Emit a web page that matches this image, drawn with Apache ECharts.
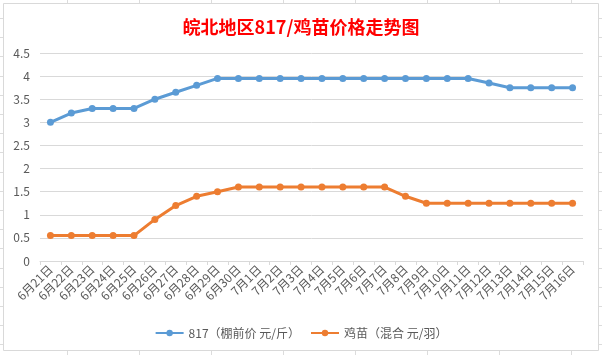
<!DOCTYPE html>
<html>
<head>
<meta charset="utf-8">
<script src="https://cdn.jsdelivr.net/npm/echarts@6/dist/echarts.min.js"></script>
<style>
html,body{margin:0;padding:0;background:#fff;}
#c{width:602px;height:355px;}
</style>
</head>
<body>
<div id="c"></div>
<script>
const categories = ['6月21日','6月22日','6月23日','6月24日','6月25日','6月26日','6月27日','6月28日','6月29日','6月30日',
  '7月1日','7月2日','7月3日','7月4日','7月5日','7月6日','7月7日','7月8日','7月9日','7月10日',
  '7月11日','7月12日','7月13日','7月14日','7月15日','7月16日'];
const price817 = [3.0,3.2,3.3,3.3,3.3,3.5,3.65,3.8,3.95,3.95,
  3.95,3.95,3.95,3.95,3.95,3.95,3.95,3.95,3.95,3.95,
  3.95,3.85,3.75,3.75,3.75,3.75];
const chickPrice = [0.55,0.55,0.55,0.55,0.55,0.9,1.2,1.4,1.5,1.6,
  1.6,1.6,1.6,1.6,1.6,1.6,1.6,1.4,1.25,1.25,
  1.25,1.25,1.25,1.25,1.25,1.25];
const seriesNames = ['817（棚前价 元/斤）','鸡苗（混合 元/羽）'];
const titleText = '皖北地区817/鸡苗价格走势图';

const FONT = '"Noto Sans CJK SC", "Noto Sans", sans-serif';
const chart = echarts.init(document.getElementById('c'));

// spreadsheet background grid in the margins (decoration)
const deco = [];
const sheetLine = {stroke:'#dcdcdc', lineWidth:1};
for (let x = 67; x < 602; x += 72) {
  deco.push({type:'line', silent:true, z:-5, shape:{x1:x+0.5,y1:0,x2:x+0.5,y2:3}, style:sheetLine});
  deco.push({type:'line', silent:true, z:-5, shape:{x1:x+0.5,y1:351,x2:x+0.5,y2:355}, style:sheetLine});
}
for (let y = 18; y < 355; y += 19.2) {
  const yy = Math.round(y) + 0.5;
  deco.push({type:'line', silent:true, z:-5, shape:{x1:0,y1:yy,x2:3,y2:yy}, style:sheetLine});
  deco.push({type:'line', silent:true, z:-5, shape:{x1:599,y1:yy,x2:602,y2:yy}, style:sheetLine});
}
deco.push({type:'rect', silent:true, z:-4, shape:{x:3.5,y:3.5,width:595,height:347},
  style:{fill:'#ffffff', stroke:'#d9d9d9', lineWidth:1}});

chart.setOption({
  backgroundColor:'#ffffff',
  animation:false,
  textStyle:{fontFamily:FONT},
  title:{
    text:titleText, left:'center', top:13,
    textStyle:{color:'#ff0000', fontSize:18, fontWeight:'bold', fontFamily:FONT}
  },
  graphic:deco,
  grid:{left:40, right:19, top:53, bottom:94, containLabel:false},
  legend:{
    bottom:11, left:'center', itemWidth:28, itemHeight:8, itemGap:10,
    textStyle:{color:'#595959', fontSize:12, fontFamily:FONT},
    data:seriesNames
  },
  xAxis:{
    type:'category', data:categories, boundaryGap:true,
    axisLine:{lineStyle:{color:'#d9d9d9', width:1}},
    axisTick:{show:true, length:4, alignWithLabel:false, lineStyle:{color:'#d9d9d9'}},
    axisLabel:{rotate:45, interval:0, color:'#595959', fontSize:12, margin:6, fontFamily:FONT}
  },
  yAxis:{
    type:'value', min:0, max:4.5, interval:0.5,
    axisLine:{show:false}, axisTick:{show:false},
    axisLabel:{color:'#595959', fontSize:12, margin:10, fontFamily:FONT},
    splitLine:{lineStyle:{color:'#d9d9d9', width:1}}
  },
  series:[
    {name:seriesNames[0], type:'line', data:price817, symbol:'circle', symbolSize:7,
     lineStyle:{color:'#5b9bd5', width:3}, itemStyle:{color:'#5b9bd5'}},
    {name:seriesNames[1], type:'line', data:chickPrice, symbol:'circle', symbolSize:7,
     lineStyle:{color:'#ed7d31', width:3}, itemStyle:{color:'#ed7d31'}}
  ]
});
</script>
</body>
</html>
